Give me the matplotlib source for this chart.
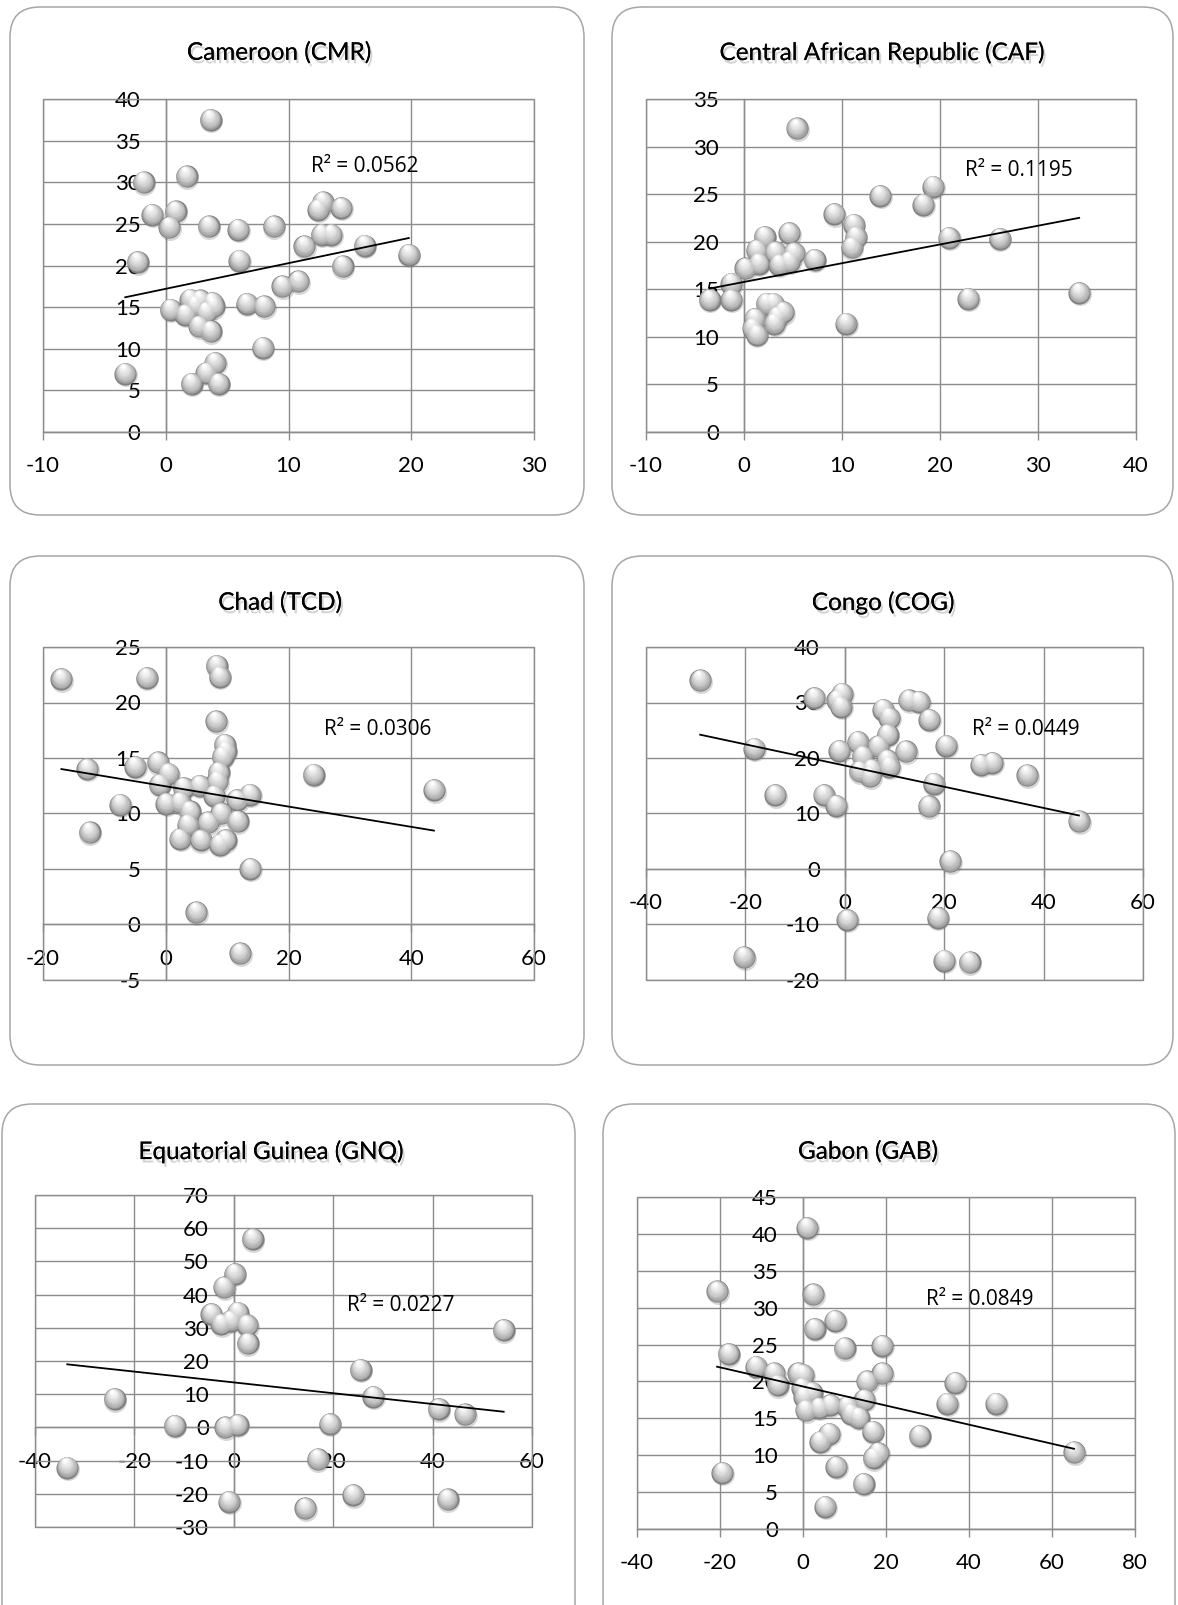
import numpy as np
import matplotlib
matplotlib.use('Agg')
import matplotlib.pyplot as plt
from matplotlib.patches import FancyBboxPatch, Rectangle
from matplotlib import transforms
import matplotlib.patheffects as pe

plt.rcParams['font.family'] = ['Lato', 'DejaVu Sans']
plt.rcParams['axes.unicode_minus'] = False

# ---- data ----
cmr_x = [3.65, 1.7, -1.8, -1.1, 0.8, 0.3, 3.5, 5.9, 8.8, 12.8, 12.4, 14.3, 12.7, 13.5, 11.3, 16.2, 19.8, -2.3, 6.0, 14.4,
         10.8, 9.5, 2.0, 2.8, 3.8, 3.9, 6.6, 8.0, 0.4, 1.6, 2.4, 3.3, 2.7, 3.65, 7.9, 4.0, 3.3, -3.3, 2.1, 4.3]
cmr_y = [37.5, 30.7, 30.0, 26.1, 26.5, 24.6, 24.7, 24.3, 24.7, 27.6, 26.7, 26.9, 23.7, 23.7, 22.3, 22.4, 21.3, 20.4, 20.6, 19.9,
         18.1, 17.5, 15.9, 15.8, 15.5, 15.1, 15.4, 15.1, 14.7, 14.1, 15.2, 14.4, 12.7, 12.1, 10.1, 8.3, 7.1, 7.0, 5.8, 5.8]

caf_x = [5.4, 13.9, 19.3, 18.3, 9.2, 11.2, 11.4, 11.0, 2.1, 4.6, 5.1, 1.3, 3.2, 1.5, 3.6, 4.6, 7.2, 0.15, -1.3, -3.5,
         -1.3, 20.9, 26.1, 22.9, 34.2, 2.3, 3.0, 4.0, 3.4, 3.1, 1.1, 0.9, 1.3, 10.4]
caf_y = [31.9, 24.8, 25.8, 23.9, 22.9, 21.8, 20.5, 19.4, 20.5, 20.9, 18.8, 19.1, 18.9, 17.7, 17.6, 17.9, 18.1, 17.2, 15.6, 13.9,
         13.9, 20.4, 20.3, 14.0, 14.6, 13.5, 13.5, 12.6, 12.1, 11.4, 11.9, 10.9, 10.2, 11.4]

tcd_x = [-17.0, -3.1, 8.3, 8.8, 8.2, 9.6, 9.75, 9.25, -12.8, -5.0, -1.3, 0.4, 8.6, 8.4, 24.1, 43.7, -1.0, 2.9, 5.5, 7.9,
         11.6, 13.7, -7.4, 0.1, 2.3, 3.9, 9.0, 11.7, 3.6, 6.9, -12.4, 2.3, 5.7, 8.8, 9.75, 13.8, 5.0, 12.1]
tcd_y = [22.1, 22.2, 23.3, 22.3, 18.3, 16.2, 15.6, 15.1, 14.0, 14.2, 14.6, 13.6, 13.7, 12.9, 13.5, 12.1, 12.6, 12.3, 12.5, 11.6,
         11.2, 11.7, 10.8, 10.9, 11.0, 10.2, 10.0, 9.3, 9.0, 9.2, 8.3, 7.7, 7.6, 7.2, 7.6, 5.0, 1.1, -2.6]

cog_x = [-29.1, -18.2, -14.0, -4.2, -1.7, -20.3, 0.5, -6.1, -0.6, -1.5, -0.8, -1.1, 2.6, 6.7, 12.3, 7.7, 8.9, 12.9, 14.9, 17.0,
         8.6, 3.6, 8.5, 8.9, 3.0, 5.1, 5.4, 20.4, 27.4, 29.7, 36.7, 17.9, 16.9, 47.1, 21.2, 18.7, 20.0, 25.1]
cog_y = [34.0, 21.7, 13.3, 13.3, 11.4, -15.9, -9.2, 30.8, 31.6, 30.4, 29.2, 21.3, 22.9, 22.1, 21.2, 28.7, 27.2, 30.4, 30.1, 26.9,
         24.2, 20.3, 19.6, 18.4, 17.6, 16.7, 17.9, 22.2, 18.8, 19.1, 16.9, 15.4, 11.3, 8.6, 1.4, -8.8, -16.5, -16.8]

gnq_x = [-33.5, -24.0, -11.9, -1.7, 0.75, -1.0, 14.4, 16.9, 19.3, 24.0, 43.0, 25.5, 28.1, 41.2, 46.5, 54.3, 3.8, 0.2, -2.0, -4.5,
         0.75, -0.6, -2.5, 2.65, 2.8]
gnq_y = [-12.1, 8.5, 0.5, 0.0, 0.7, -22.4, -24.4, -9.6, 1.0, -20.4, -21.7, 17.3, 9.2, 5.5, 3.9, 29.3, 56.7, 46.2, 42.2, 34.1,
         34.6, 32.1, 31.1, 30.8, 25.3]

gab_x = [1.0, -20.7, 2.5, 2.8, 7.7, 10.0, 19.1, -17.9, -11.3, -7.0, -6.1, -1.1, 0.0, 19.1, 15.4, 36.7, -0.2, 2.1, 0.3, 0.7,
         3.9, 6.6, 10.7, 14.8, 34.7, 46.5, 11.6, 13.4, 16.8, 6.3, 4.1, 28.1, 17.0, 18.1, 65.3, -19.4, 8.0, 14.6, 5.3]
gab_y = [40.8, 32.2, 31.8, 27.1, 28.2, 24.5, 24.8, 23.7, 22.0, 21.1, 19.5, 21.1, 20.9, 21.1, 20.0, 19.8, 19.1, 18.5, 17.9, 16.1,
         16.4, 16.8, 16.6, 17.5, 17.0, 17.0, 15.6, 15.1, 13.2, 12.9, 11.8, 12.6, 9.6, 10.3, 10.4, 7.6, 8.4, 6.1, 3.0]

titles = ['Cameroon (CMR)', 'Central African Republic (CAF)', 'Chad (TCD)',
          'Congo (COG)', 'Equatorial Guinea (GNQ)', 'Gabon (GAB)']
r2_labels = ['R² = 0.0562', 'R² = 0.1195', 'R² = 0.0306', 'R² = 0.0449', 'R² = 0.0227', 'R² = 0.0849']
# linear trend lines as drawn (slope, intercept)
trend_slope = [0.308, 0.197, -0.0913, -0.191, -0.1626, -0.1294]
trend_icpt = [17.2, 15.77, 12.45, 18.64, 13.55, 19.32]
xticks = [range(-10, 31, 10), range(-10, 41, 10), range(-20, 61, 20),
          range(-40, 61, 20), range(-40, 61, 20), range(-40, 81, 20)]
yticks = [range(0, 41, 5), range(0, 36, 5), range(-5, 26, 5),
          range(-20, 41, 10), range(-30, 71, 10), range(0, 46, 5)]

xs = [cmr_x, caf_x, tcd_x, cog_x, gnq_x, gab_x]
ys = [cmr_y, caf_y, tcd_y, cog_y, gnq_y, gab_y]

# ---- layout in pixels (left, top, right, bottom) ----
W, H = 1178, 1605
plot_px = [(43, 99, 534, 432), (646, 99, 1136, 432),
           (43, 647, 534, 980), (646, 647, 1143, 980),
           (35, 1195, 532, 1527), (637, 1197, 1135, 1529)]
box_px = [(10, 7, 584, 515), (612, 7, 1173, 515),
          (10, 556, 584, 1065), (612, 556, 1173, 1065),
          (2, 1104, 575, 1640), (603, 1104, 1175, 1640)]
title_pos = [(279, 53), (882, 53), (280, 603), (883, 603), (271, 1152), (868, 1152)]
r2_pos = [(11.8, 31.9), (22.6, 27.5), (25.8, 17.6), (25.5, 25.2), (22.7, 36.8), (29.7, 31.1)]

grid_c = '#8c8c8c'

fig = plt.figure(figsize=(W / 100, H / 100), dpi=100)
fig.patch.set_facecolor('white')

bg = fig.add_axes([0, 0, 1, 1], zorder=0)
bg.set_xlim(0, W)
bg.set_ylim(H, 0)
bg.axis('off')


def draw_balls(ax, x, y, diam=16.0):
    # fake 3d sphere markers: stacked circles getting lighter toward the top highlight
    f = ax.figure
    tr = transforms.offset_copy(ax.transData, fig=f, x=0.5, y=-1.0, units='points')
    ax.scatter(x, y, s=(diam * 1.03) ** 2, color='#606060', alpha=0.25, lw=0, transform=tr, zorder=3)
    n = 12
    dvec = np.array([-0.3, 0.95])
    for i in range(n):
        t = i / (n - 1)
        d = diam * (1 - 0.85 * t)
        shift = (diam - d) / 2 * 0.85
        tr = transforms.offset_copy(ax.transData, fig=f, x=dvec[0] * shift, y=dvec[1] * shift, units='points')
        g = 0.5 + 0.5 * t ** 0.55
        ax.scatter(x, y, s=d ** 2, color=(g, g, g), lw=0, transform=tr, zorder=3 + i * 0.01)


for k in range(6):
    l, t, r, b = plot_px[k]
    ax = fig.add_axes([l / W, 1 - b / H, (r - l) / W, (b - t) / H], zorder=1)
    ax.patch.set_alpha(0)
    xt, yt = list(xticks[k]), list(yticks[k])
    ax.set_xlim(xt[0], xt[-1])
    ax.set_ylim(yt[0], yt[-1])
    ax.set_xticks(xt)
    ax.set_yticks(yt)
    ax.set_axisbelow(True)
    ax.grid(True, color=grid_c, lw=1.0)
    for s in ['top', 'right']:
        ax.spines[s].set_visible(False)
    ax.spines['left'].set_position(('data', 0))
    ax.spines['bottom'].set_position(('data', 0))
    for s in ['left', 'bottom']:
        ax.spines[s].set_color(grid_c)
        ax.spines[s].set_linewidth(1.0)
    ax.add_patch(Rectangle((0, 0), 1, 1, transform=ax.transAxes, fill=False,
                           ec=grid_c, lw=1.0, clip_on=False, zorder=0.6))
    ax.tick_params(axis='x', direction='out', length=5.5, width=1.0, color=grid_c, pad=12, labelsize=16)
    ax.tick_params(axis='y', length=0, pad=18, labelsize=16)

    draw_balls(ax, xs[k], ys[k])

    x0, x1 = min(xs[k]), max(xs[k])
    ax.plot([x0, x1], [trend_icpt[k] + trend_slope[k] * x0, trend_icpt[k] + trend_slope[k] * x1],
            color='black', lw=1.3, zorder=5)
    ax.text(r2_pos[k][0], r2_pos[k][1], r2_labels[k], ha='left', va='center',
            fontsize=15, family=['Open Sans', 'DejaVu Sans'], zorder=6)

    bx0, by0, bx1, by1 = box_px[k]
    bg.add_patch(FancyBboxPatch((bx0, by0), bx1 - bx0, by1 - by0,
                                boxstyle='round,pad=0,rounding_size=30',
                                fc='white', ec='#a6a6a6', lw=1.1))
    bg.text(title_pos[k][0], title_pos[k][1], titles[k], ha='center', va='center', fontsize=17.5,
            path_effects=[pe.withSimplePatchShadow(offset=(1.5, -2.5), shadow_rgbFace='#707070', alpha=0.3),
                          pe.Normal()])

fig.savefig('out.png', dpi=100)
